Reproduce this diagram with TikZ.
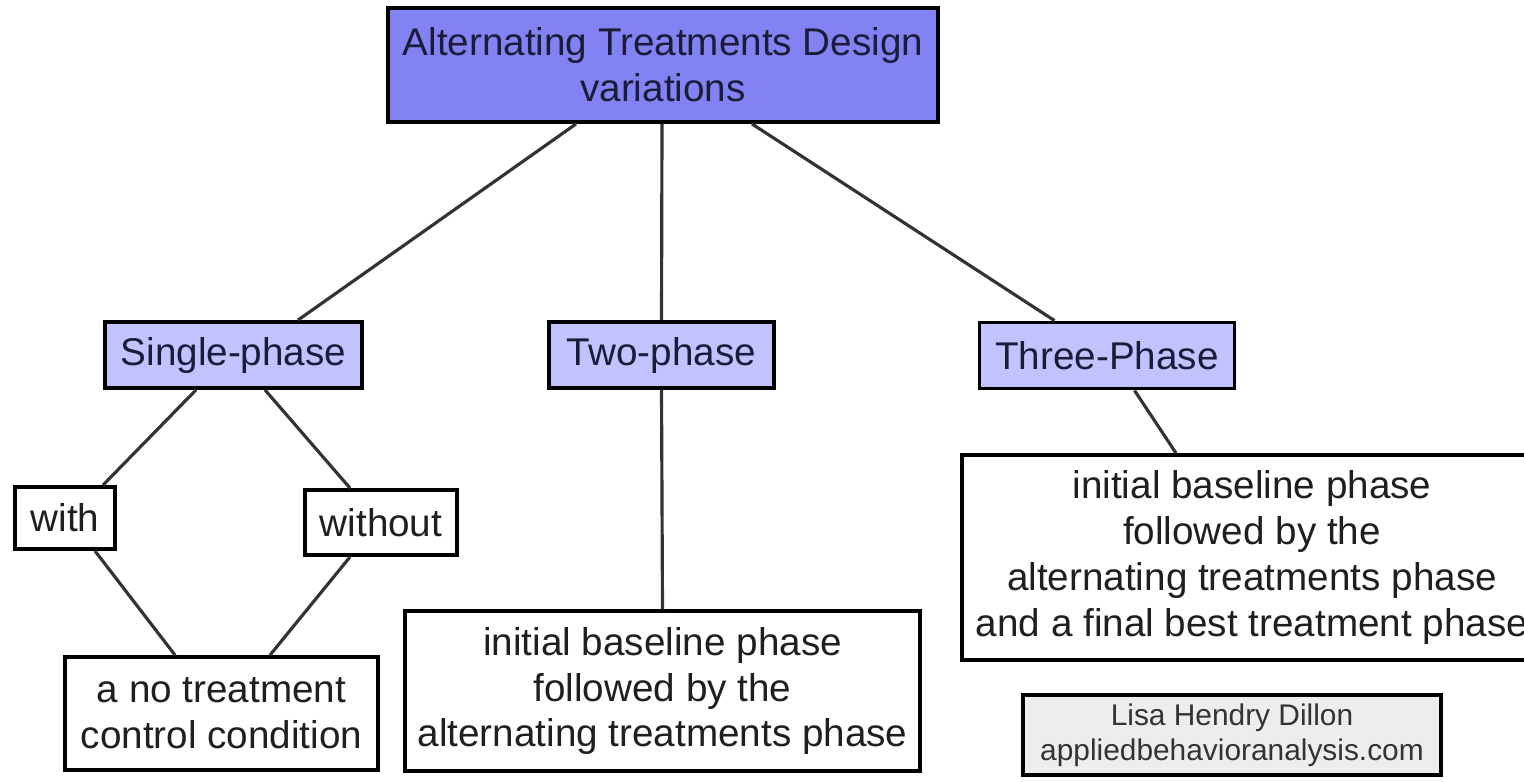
\documentclass[tikz,border=0pt]{standalone}
\usepackage{fontspec}
\setmainfont{Liberation Sans}
\definecolor{topblue}{HTML}{8282F2}
\definecolor{subblue}{HTML}{C2C2FF}
\definecolor{creditgray}{HTML}{EDEDED}
\definecolor{inktext}{HTML}{1C1C3A}
\definecolor{linegray}{HTML}{333333}
\begin{document}
\begin{tikzpicture}[
    box/.style={draw=black, line width=1.1pt, align=center, inner sep=2pt,
                font=\fontsize{11}{13}\selectfont, text=black!88},
    bluebox/.style={box, fill=subblue, text=inktext},
    link/.style={draw=linegray, line width=0.9pt}
  ]
            \useasboundingbox (0,0) rectangle (15.24,-7.81);

            % Hauptknoten
            \node[box, fill=topblue, text=inktext, minimum width=5.5cm, minimum height=1.14cm] (atd) at (6.63,-0.65) {Alternating Treatments Design\\variations};

            % Varianten
            \node[bluebox, minimum width=2.57cm, minimum height=0.66cm] (single) at (2.335,-3.55) {Single-phase};
            \node[bluebox, minimum width=2.25cm, minimum height=0.66cm] (two) at (6.615,-3.55) {Two-phase};
            \node[bluebox, minimum width=2.55cm, minimum height=0.66cm] (three) at (11.07,-3.555) {Three-Phase};

            % Single-phase: mit / ohne
            \node[box, minimum width=1.0cm, minimum height=0.62cm] (with) at (0.65,-5.18) {with};
            \node[box, minimum width=1.52cm, minimum height=0.65cm] (without) at (3.81,-5.225) {without};
            \node[box, minimum width=3.13cm, minimum height=1.13cm] (notreat) at (2.215,-7.135) {a no treatment\\control condition};

            % Beschreibungen
            \node[box, minimum width=5.15cm, minimum height=1.6cm] (twodesc) at (6.625,-6.91) {initial baseline phase\\followed by the\\alternating treatments phase};
            \node[box, minimum width=5.8cm, minimum height=2.05cm] (threedesc) at (12.52,-5.575) {initial baseline phase\\followed by the\\alternating treatments phase\\and a final best treatment phase};

            % Quelle
            \node[box, fill=creditgray, line width=1.2pt, minimum width=4.18cm, minimum height=0.8cm, font=\fontsize{8.5}{10}\selectfont, text=black!80] (credit) at (12.32,-7.35) {Lisa Hendry Dillon\\appliedbehavioranalysis.com};

            % Verbindungen
            \draw[link] ([xshift=-0.87cm]atd.south) -- ([xshift=0.645cm]single.north);
            \draw[link] ([xshift=-0.01cm]atd.south) -- (two.north);
            \draw[link] ([xshift=0.89cm]atd.south) -- ([xshift=-0.525cm]three.north);
            \draw[link] ([xshift=-0.375cm]single.south) -- ([xshift=0.38cm]with.north);
            \draw[link] ([xshift=0.315cm]single.south) -- ([xshift=-0.31cm]without.north);
            \draw[link] ([xshift=0.30cm]with.south) -- ([xshift=-0.465cm]notreat.north);
            \draw[link] ([xshift=-0.31cm]without.south) -- ([xshift=0.485cm]notreat.north);
            \draw[link] (two.south) -- (twodesc.north);
            \draw[link] ([xshift=0.275cm]three.south) -- ([xshift=-0.76cm]threedesc.north);
\end{tikzpicture}
\end{document}
